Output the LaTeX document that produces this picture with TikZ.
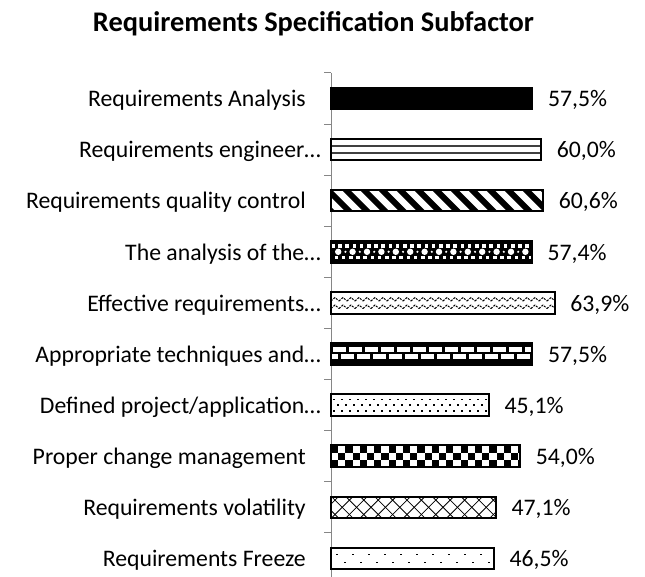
\documentclass[tikz,border=0pt]{standalone}
\usepackage{fontspec}
\setmainfont{Carlito}

\begin{document}
\begin{tikzpicture}[x=0.75pt,y=0.75pt,yscale=-1,xscale=1,
  catlabel/.style={anchor=base east,inner sep=0pt,font=\fontsize{17.8}{21}\selectfont},
  pctlabel/.style={anchor=base west,inner sep=0pt,font=\fontsize{17.8}{21}\selectfont},
  barframe/.style={line width=1.5pt},
  axisgray/.style={color={rgb, 255:red, 134; green, 134; blue, 134},line width=0.75pt}]
\useasboundingbox (0,0) rectangle (645,577);

% Title
\draw (313.5,32) node [anchor=base,inner sep=0pt,font=\fontsize{21.3}{25}\selectfont\bfseries] (title) {Requirements Specification Subfactor};

%Shape: Axis
\draw [axisgray] (331,73) -- (331,577);
\foreach \k in {0,...,9}
  \draw [axisgray] (324,{73+51.1*\k}) -- (331,{73+51.1*\k});

%Bar: solid
\fill (331,87.7) rectangle (532.25,109.3);
\draw [barframe] (331,87.7) rectangle (532.25,109.3);

%Bar: horizontal lines
\fill [white] (331,138.8) rectangle (541,160.4);
\draw [color={rgb, 255:red, 64; green, 64; blue, 64},line width=1.1pt] (331,146) -- (541,146) (331,153.2) -- (541,153.2);
\draw [barframe] (331,138.8) rectangle (541,160.4);

%Bar: wide downward diagonal
\begin{scope}
\clip (331,189.9) rectangle (543.1,211.5);
\foreach \x in {305,323,...,545}
  \draw [line width=4.5pt] (\x,185) -- ({\x+31},216);
\end{scope}
\draw [barframe] (331,189.9) rectangle (543.1,211.5);

%Bar: sphere
\begin{scope}
\clip (331,241) rectangle (531.9,262.6);
\fill (331,241) rectangle (531.9,262.6);
\foreach \x in {331,345.4,...,535} {
  \fill [white] (\x,244.2) rectangle ({\x+3.6},247.8);
  \fill [white] ({\x+7.2},244.2) rectangle ({\x+10.8},247.8);
  \fill [white] ({\x+3.6},255.8) rectangle ({\x+7.2},259.4);
  \fill [white] ({\x+10.8},255.8) rectangle ({\x+14.4},259.4);
  \fill [white] ({\x+7.2},251.8) circle (3.2);
  \fill [white] (\x,251.8) circle (1.2);
}
\end{scope}
\draw [barframe] (331,241) rectangle (531.9,262.6);

%Bar: wave
\fill [white] (331,292.1) rectangle (554.65,313.7);
\begin{scope}
\clip (331,292.1) rectangle (554.65,313.7);
\foreach \x in {331,339,...,555} {
  \draw [line width=0.75pt,dash pattern=on 1.5pt off 1pt] (\x,301) -- ({\x+4},297.5) -- ({\x+8},301);
  \draw [line width=0.75pt,dash pattern=on 1.5pt off 1pt] (\x,308.5) -- ({\x+4},305) -- ({\x+8},308.5);
}
\end{scope}
\draw [barframe] (331,292.1) rectangle (554.65,313.7);

%Bar: horizontal brick
\begin{scope}
\clip (331,343.2) rectangle (532.25,364.8);
\fill (331,343.2) rectangle (532.25,364.8);
\foreach \x in {333,349,...,533} {
  \fill [white] (\x,346.8) rectangle ({\x+13},351.6);
  \fill [white] ({\x-8},354) rectangle ({\x+5},358.8);
}
\end{scope}
\draw [barframe] (331,343.2) rectangle (532.25,364.8);

%Bar: dotted
\fill [white] (331,394.3) rectangle (488.85,415.9);
\begin{scope}
\clip (331,394.3) rectangle (488.85,415.9);
\foreach \x in {333,341,...,489} {
  \fill (\x,398.5) rectangle ({\x+1.8},400.3);
  \fill ({\x+4},404.3) rectangle ({\x+5.8},406.1);
  \fill (\x,410.1) rectangle ({\x+1.8},411.9);
}
\end{scope}
\draw [barframe] (331,394.3) rectangle (488.85,415.9);

%Bar: checkerboard
\fill [white] (331,445.4) rectangle (520,467);
\begin{scope}
\clip (331,445.4) rectangle (520,467);
\foreach \x in {331,345.4,...,521} {
  \fill (\x,445.4) rectangle ({\x+7.2},452.6);
  \fill ({\x+7.2},452.6) rectangle ({\x+14.4},459.8);
  \fill (\x,459.8) rectangle ({\x+7.2},467);
}
\end{scope}
\draw [barframe] (331,445.4) rectangle (520,467);

%Bar: diagonal cross
\fill [white] (331,496.5) rectangle (495.85,518.1);
\begin{scope}
\clip (331,496.5) rectangle (495.85,518.1);
\foreach \x in {317,331.4,...,497} {
  \draw [line width=0.6pt] (\x,496.5) -- ({\x+21.6},518.1);
  \draw [line width=0.6pt] (\x,518.1) -- ({\x+21.6},496.5);
}
\end{scope}
\draw [barframe] (331,496.5) rectangle (495.85,518.1);

%Bar: sparse dots
\fill [white] (331,547.6) rectangle (493.75,569.2);
\begin{scope}
\clip (331,547.6) rectangle (493.75,569.2);
\foreach \x in {336,352,...,494} {
  \fill (\x,553.5) rectangle ({\x+1.5},555);
  \fill ({\x+8},561.5) rectangle ({\x+9.5},563);
}
\end{scope}
\draw [barframe] (331,547.6) rectangle (493.75,569.2);

% Category labels
\draw (306,106.7) node [catlabel] (catAnalysis) {Requirements Analysis};
\draw (321,157.8) node [catlabel] (catEngineering) {Requirements engineer…};
\draw (306,208.9) node [catlabel] (catQuality) {Requirements quality control};
\draw (321,260.0) node [catlabel] (catTheAnalysis) {The analysis of the…};
\draw (321,311.1) node [catlabel] (catEffective) {Effective requirements…};
\draw (321,362.2) node [catlabel] (catTechniques) {Appropriate techniques and…};
\draw (321,413.3) node [catlabel] (catDefined) {Defined project/application…};
\draw (306,464.4) node [catlabel] (catChange) {Proper change management};
\draw (306,515.5) node [catlabel] (catVolatility) {Requirements volatility};
\draw (306,566.6) node [catlabel] (catFreeze) {Requirements Freeze};

% Value labels
\draw (547.75,106.7) node [pctlabel] (pctAnalysis) {57,5\%};
\draw (556.5,157.8) node [pctlabel] (pctEngineering) {60,0\%};
\draw (558.6,208.9) node [pctlabel] (pctQuality) {60,6\%};
\draw (547.4,260.0) node [pctlabel] (pctTheAnalysis) {57,4\%};
\draw (570.15,311.1) node [pctlabel] (pctEffective) {63,9\%};
\draw (547.75,362.2) node [pctlabel] (pctTechniques) {57,5\%};
\draw (504.35,413.3) node [pctlabel] (pctDefined) {45,1\%};
\draw (535.5,464.4) node [pctlabel] (pctChange) {54,0\%};
\draw (511.35,515.5) node [pctlabel] (pctVolatility) {47,1\%};
\draw (509.25,566.6) node [pctlabel] (pctFreeze) {46,5\%};

\end{tikzpicture}
\end{document}
